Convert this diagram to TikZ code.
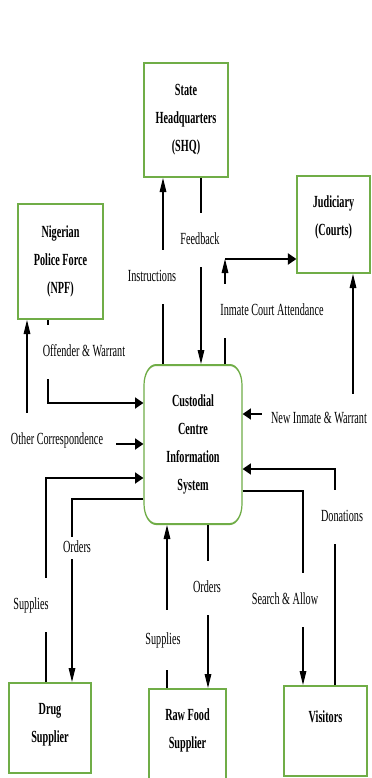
\documentclass[tikz,border=0pt]{standalone}
\usepackage{fontspec}
\setmainfont{Liberation Serif}
\usetikzlibrary{arrows.meta}
\definecolor{boxgreen}{RGB}{112,173,71}
\begin{document}
\begin{tikzpicture}[x=1bp,y=-1bp]
\fill[white] (0,0) rectangle (371,778);
\useasboundingbox (0,0) rectangle (371,778);
\begin{scope}[transform canvas={xscale=0.6}, x={(1.666667bp,0bp)}, y={(0bp,-1bp)},
  box/.style={draw=boxgreen, line width=2bp, fill=white, inner sep=0pt},
  btext/.style={font=\fontsize{17bp}{28bp}\selectfont\bfseries, align=center, inner sep=0pt},
  flow/.style={draw=black, line width=1.8bp, -{Triangle[length=14bp,width=11bp]}},
  bflow/.style={draw=black, line width=1.8bp, {Triangle[length=14bp,width=11bp]}-{Triangle[length=14bp,width=11bp]}},
  lab/.style={fill=white, font=\fontsize{17bp}{20bp}\selectfont, text height=12bp, text depth=4bp, inner xsep=3bp, inner ysep=19bp}]

% boxes
\node[box, minimum width=140bp, minimum height=114bp, label={[btext]center:{State\\Headquarters\\(SHQ)}}] (shq) at (186,120) {};
\node[box, minimum width=121.7bp, minimum height=97bp, label={[btext,yshift=7bp]center:{Judiciary\\(Courts)}}] (jud) at (333.5,224.5) {};
\node[box, minimum width=141.7bp, minimum height=115bp, label={[btext]center:{Nigerian\\Police Force\\(NPF)}}] (npf) at (60.5,261.5) {};
\node[box, rounded corners=20bp, minimum width=163.3bp, minimum height=159bp, label={[btext]center:{Custodial\\Centre\\Information\\System}}] (cust) at (193,444.5) {};
\node[box, minimum width=136.7bp, minimum height=90bp, label={[btext,yshift=3bp]center:{Drug\\Supplier}}] (drug) at (50,728) {};
\node[box, minimum width=128.3bp, minimum height=91bp, label={[btext,yshift=4bp]center:{Raw Food\\Supplier}}] (raw) at (187.5,734.5) {};
\node[box, minimum width=138.3bp, minimum height=90bp, label={[btext,yshift=14bp]center:{Visitors}}] (vis) at (325.5,731) {};

% bend points
\coordinate (cI) at (163,0);
\coordinate (cF) at (201,0);
\coordinate (cA) at (225,259);
\coordinate (cO) at (48,403);
\coordinate (cC) at (27,444);
\coordinate (cN) at (353,414);
\coordinate (cS) at (46,478);
\coordinate (cD) at (72,499);
\coordinate (cR) at (167,0);
\coordinate (cQ) at (208,0);
\coordinate (cV) at (303,491);
\coordinate (cW) at (335,469);

% connectors
\draw[flow] (cust.north -| cI) -- (shq.south -| cI);
\draw[flow] (shq.south -| cF) -- (cust.north -| cF);
\draw[flow] (cust.north -| cA) -- (cA);
\draw[flow] (cA) -- (jud.west |- cA);
\draw[flow] (npf.south -| cO) |- (cust.west |- cO);
\draw[bflow] (npf.south -| cC) |- (cust.west |- cC);
\draw[bflow] (jud.south -| cN) |- (cust.east |- cN);
\draw[flow] (drug.north -| cS) |- (cust.west |- cS);
\draw[flow] (cust.west |- cD) -| (drug.north -| cD);
\draw[flow] (raw.north -| cR) -- (cust.south -| cR);
\draw[flow] (cust.south -| cQ) -- (raw.north -| cQ);
\draw[flow] (cust.east |- cV) -| (vis.north -| cV);
\draw[flow] (vis.north -| cW) |- (cust.east |- cW);

% labels
\node[lab] (lI) at (152,277) {Instructions};
\node[lab] (lF) at (200,240) {Feedback};
\node[lab] (lA) at (272,311) {Inmate Court Attendance};
\node[lab] (lO) at (84,352) {Offender \& Warrant};
\node[lab, inner xsep=21.7bp] (lC) at (57,440) {Other Correspondence};
\node[lab, inner xsep=15bp, inner ysep=17bp] (lN) at (319,419) {New Inmate \& Warrant};
\node[lab] (lS) at (31,605) {Supplies};
\node[lab, inner ysep=3bp] (lD) at (77,548) {Orders};
\node[lab, inner ysep=22bp] (lR) at (163,640) {Supplies};
\node[lab] (lQ) at (207,588) {Orders};
\node[lab] (lV) at (285,600) {Search \& Allow};
\node[lab] (lW) at (342,517) {Donations};
\end{scope}
\end{tikzpicture}
\end{document}
